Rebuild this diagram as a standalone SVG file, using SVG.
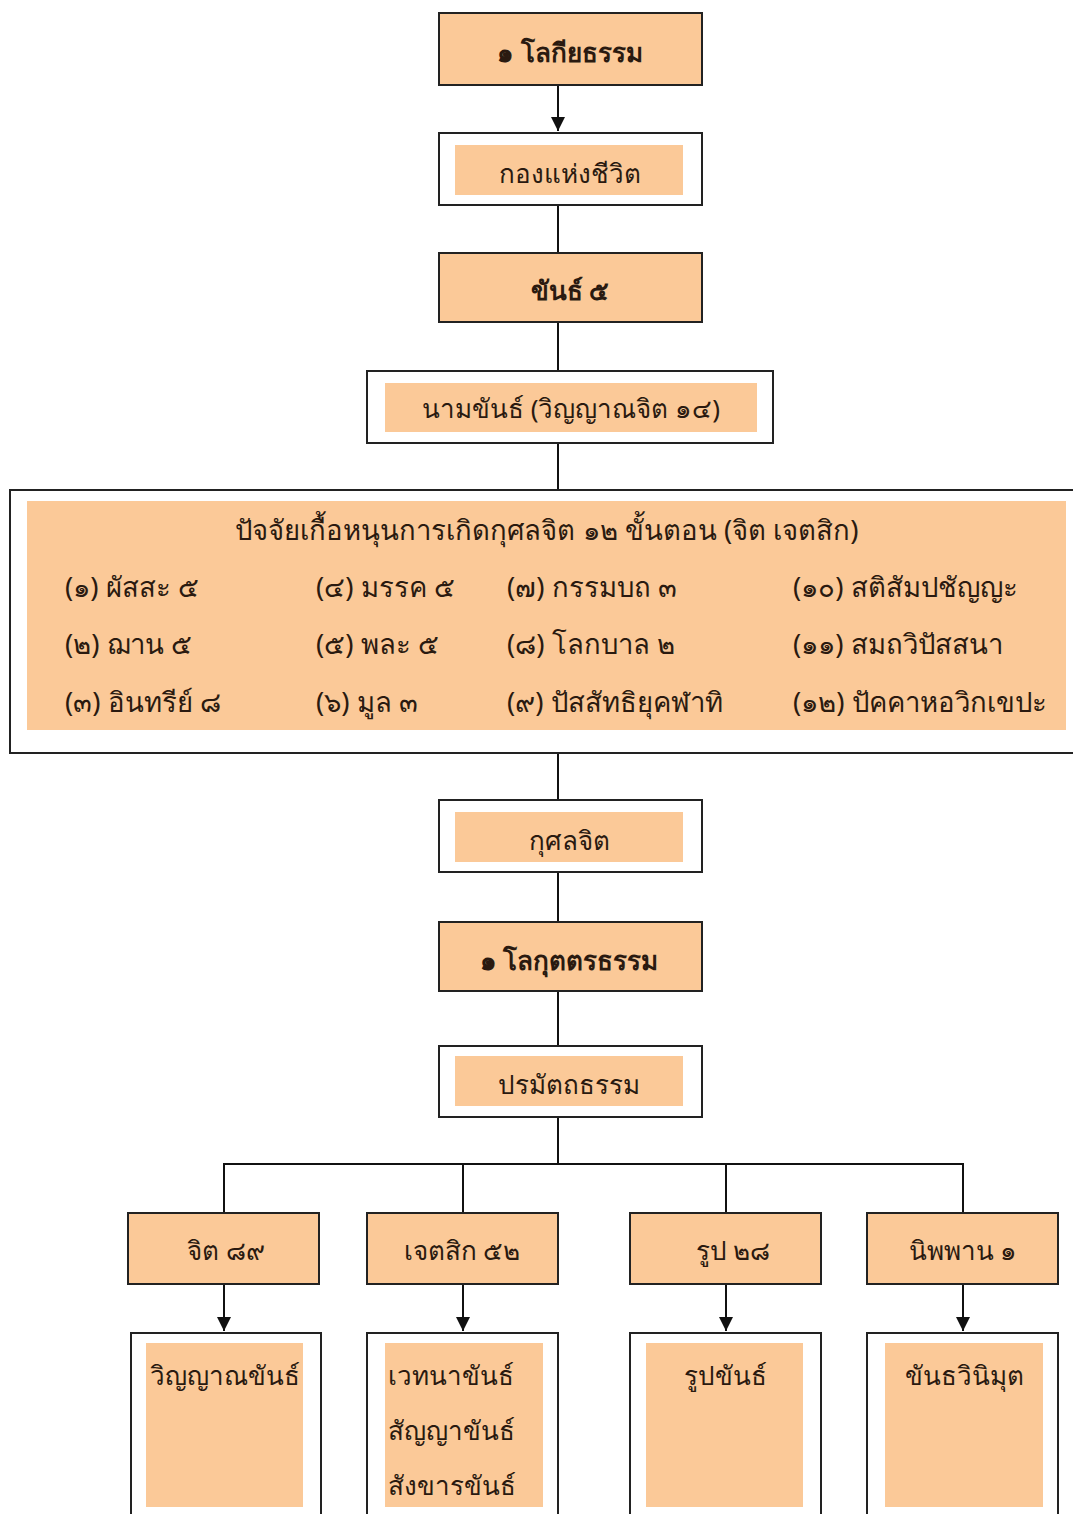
<svg xmlns="http://www.w3.org/2000/svg" width="1073" height="1514" viewBox="0 0 1073 1514">
<defs>
<marker id="arr" viewBox="0 0 10 10" refX="10" refY="5" markerWidth="14" markerHeight="14" markerUnits="userSpaceOnUse" orient="auto">
<path d="M0,0 L10,5 L0,10 Z" fill="#111"/>
</marker>
<style>
.fill{fill:#FBC998;stroke:#222;stroke-width:2}
.out{fill:#fff;stroke:#222;stroke-width:2}
.in{fill:#FBC998;stroke:none}
.t{font-family:"Noto Sans","DejaVu Sans",sans-serif;font-size:26px;fill:#2a1a10}
.big{font-size:27.5px}
.c{text-anchor:middle}
.b{font-weight:bold}
.ln{stroke:#111;stroke-width:2;fill:none}
</style>
</defs>
<rect width="1073" height="1514" fill="#fff"/>
<g id="connectors">
<line class="ln" x1="558" y1="85" x2="558" y2="131" marker-end="url(#arr)"/>
<line class="ln" x1="558" y1="205" x2="558" y2="253"/>
<line class="ln" x1="558" y1="322" x2="558" y2="371"/>
<line class="ln" x1="558" y1="443" x2="558" y2="490"/>
<line class="ln" x1="558" y1="753" x2="558" y2="800"/>
<line class="ln" x1="558" y1="872" x2="558" y2="922"/>
<line class="ln" x1="558" y1="991" x2="558" y2="1046"/>
<line class="ln" x1="558" y1="1117" x2="558" y2="1164"/>
<path class="ln" d="M224,1213 V1164 H963 V1213 M463,1164 V1213 M726,1164 V1213"/>
<line class="ln" x1="224" y1="1284" x2="224" y2="1331" marker-end="url(#arr)"/>
<line class="ln" x1="463" y1="1284" x2="463" y2="1331" marker-end="url(#arr)"/>
<line class="ln" x1="726" y1="1284" x2="726" y2="1331" marker-end="url(#arr)"/>
<line class="ln" x1="963" y1="1284" x2="963" y2="1331" marker-end="url(#arr)"/>
</g>
<g id="n1">
<rect class="fill" x="439" y="13" width="263" height="72"/>
<text class="t c b" x="570" y="62">๑ โลกียธรรม</text>
</g>
<g id="n2">
<rect class="out" x="439" y="133" width="263" height="72"/>
<rect class="in" x="455" y="145" width="228" height="50"/>
<text class="t c" x="570" y="183">กองแห่งชีวิต</text>
</g>
<g id="n3">
<rect class="fill" x="439" y="253" width="263" height="69"/>
<text class="t c b" x="570" y="300">ขันธ์ ๕</text>
</g>
<g id="n4">
<rect class="out" x="367" y="371" width="406" height="72"/>
<rect class="in" x="385" y="383" width="372" height="49"/>
<text class="t c" x="571" y="418">นามขันธ์ (วิญญาณจิต ๑๔)</text>
</g>
<g id="n5">
<rect class="out" x="10" y="490" width="1070" height="263"/>
<rect class="in" x="27" y="501" width="1039" height="229"/>
<text class="t big c" x="547" y="540">ปัจจัยเกื้อหนุนการเกิดกุศลจิต ๑๒ ขั้นตอน (จิต เจตสิก)</text>
<text class="t big" x="65" y="597">(๑) ผัสสะ ๕</text>
<text class="t big" x="65" y="654">(๒) ฌาน ๕</text>
<text class="t big" x="65" y="712">(๓) อินทรีย์ ๘</text>
<text class="t big" x="316" y="597">(๔) มรรค ๕</text>
<text class="t big" x="316" y="654">(๕) พละ ๕</text>
<text class="t big" x="316" y="712">(๖) มูล ๓</text>
<text class="t big" x="507" y="597">(๗) กรรมบถ ๓</text>
<text class="t big" x="507" y="654">(๘) โลกบาล ๒</text>
<text class="t big" x="507" y="712">(๙) ปัสสัทธิยุคฬาทิ</text>
<text class="t big" x="793" y="597">(๑๐) สติสัมปชัญญะ</text>
<text class="t big" x="793" y="654">(๑๑) สมถวิปัสสนา</text>
<text class="t big" x="793" y="712">(๑๒) ปัคคาหอวิกเขปะ</text>
</g>
<g id="n6">
<rect class="out" x="439" y="800" width="263" height="72"/>
<rect class="in" x="455" y="812" width="228" height="50"/>
<text class="t c" x="569" y="850">กุศลจิต</text>
</g>
<g id="n7">
<rect class="fill" x="439" y="922" width="263" height="69"/>
<text class="t c b" x="569" y="970">๑ โลกุตตรธรรม</text>
</g>
<g id="n8">
<rect class="out" x="439" y="1046" width="263" height="71"/>
<rect class="in" x="455" y="1056" width="228" height="50"/>
<text class="t c" x="569" y="1094">ปรมัตถธรรม</text>
</g>
<g id="n9">
<rect class="fill" x="128" y="1213" width="191" height="71"/>
<text class="t c" x="226" y="1260">จิต ๘๙</text>
</g>
<g id="n10">
<rect class="fill" x="367" y="1213" width="191" height="71"/>
<text class="t c" x="462" y="1260">เจตสิก ๕๒</text>
</g>
<g id="n11">
<rect class="fill" x="630" y="1213" width="191" height="71"/>
<text class="t c" x="733" y="1260">รูป ๒๘</text>
</g>
<g id="n12">
<rect class="fill" x="867" y="1213" width="191" height="71"/>
<text class="t c" x="963" y="1260">นิพพาน ๑</text>
</g>
<g id="n13">
<rect class="out" x="131" y="1333" width="190" height="190"/>
<rect class="in" x="146" y="1343" width="157" height="164"/>
<text class="t" x="150" y="1385">วิญญาณขันธ์</text>
</g>
<g id="n14">
<rect class="out" x="367" y="1333" width="191" height="190"/>
<rect class="in" x="385" y="1343" width="158" height="164"/>
<text class="t" x="388" y="1385">เวทนาขันธ์</text>
<text class="t" x="388" y="1440">สัญญาขันธ์</text>
<text class="t" x="388" y="1495">สังขารขันธ์</text>
</g>
<g id="n15">
<rect class="out" x="630" y="1333" width="191" height="190"/>
<rect class="in" x="646" y="1343" width="157" height="164"/>
<text class="t c" x="725" y="1385">รูปขันธ์</text>
</g>
<g id="n16">
<rect class="out" x="867" y="1333" width="191" height="190"/>
<rect class="in" x="885" y="1343" width="158" height="164"/>
<text class="t c" x="964" y="1385">ขันธวินิมุต</text>
</g>
</svg>
